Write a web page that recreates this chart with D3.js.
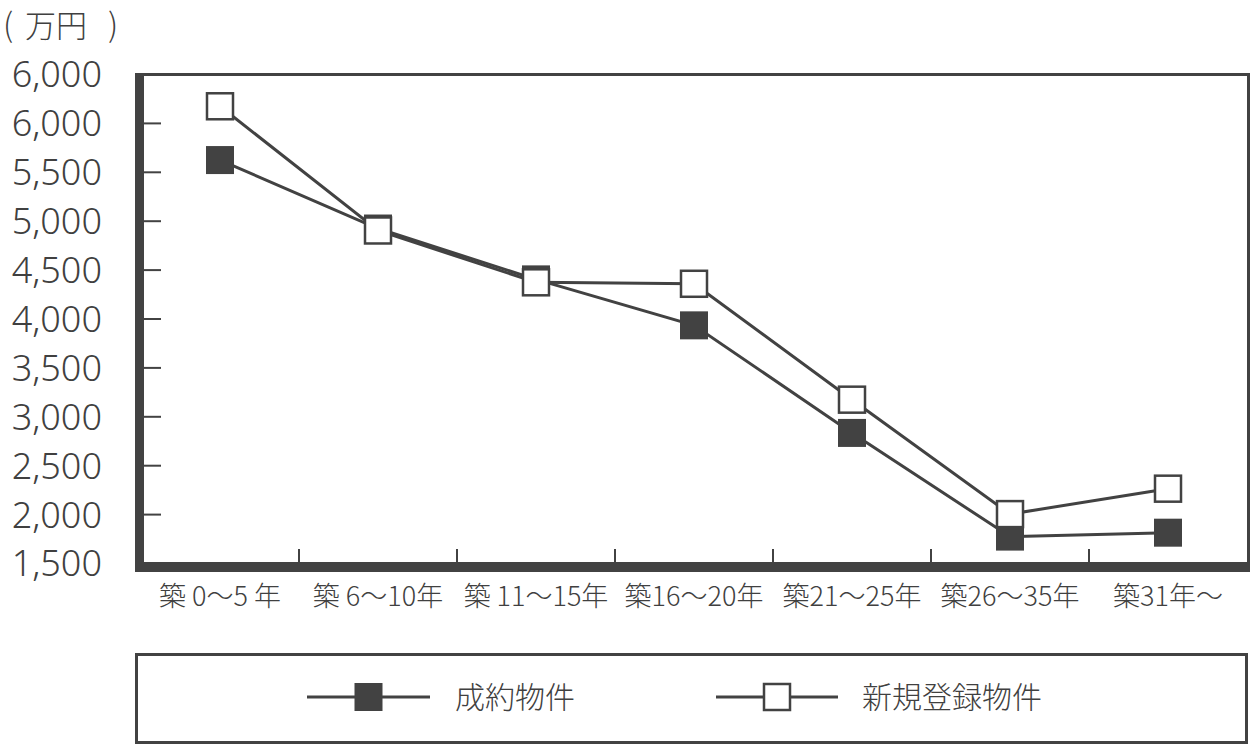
<!DOCTYPE html>
<html><head><meta charset="utf-8">
<script src="https://cdn.jsdelivr.net/npm/d3@7"></script>
<style>
html,body{margin:0;padding:0;background:#fff;}
svg{display:block;}
text{font-family:"Noto Sans CJK JP","Noto Sans",sans-serif;fill:#404040;font-weight:300;}
</style></head>
<body>
<svg id="chart" width="1251" height="745"></svg>
<script>
const categories = ["築 0～5 年","築 6～10年","築 11～15年","築16～20年","築21～25年","築26～35年","築31年～"];
const seiyaku = [5620, 4920, 4400, 3930, 2830, 1770, 1810];
const shinki  = [6170, 4900, 4370, 4355, 3170, 2000, 2260];
const yTickValues = [1500,2000,2500,3000,3500,4000,4500,5000,5500,6000,6500];
const yTickLabels = ["1,500","2,000","2,500","3,000","3,500","4,000","4,500","5,000","5,500","6,000","6,000"];
const seriesNames = ["成約物件","新規登録物件"];
const unitParts = ["(", "万円", ")"];

const dark = "#424242";
const svg = d3.select("#chart");

const x = d3.scaleBand().domain(categories).range([141, 1247]).padding(0);
const y = d3.scaleLinear().domain([1500, 6500]).range([563, 74]);

// unit label
const ut = svg.append("text").attr("y", 37).attr("font-size", 31);
ut.append("tspan").attr("x", 3).attr("font-size", 32.5).text(unitParts[0]);
ut.append("tspan").attr("x", 25).text(unitParts[1]);
ut.append("tspan").attr("x", 108).attr("font-size", 32.5).text(unitParts[2]);

// left axis (ticks inward)
const yAxis = d3.axisLeft(y).tickValues(yTickValues)
  .tickSize(-17).tickPadding(42)
  .tickFormat((d,i) => yTickLabels[i]);
const gy = svg.append("g").attr("transform", "translate(144,0)").call(yAxis);
gy.select(".domain").remove();
gy.selectAll(".tick line").attr("stroke", dark).attr("stroke-width", 2)
  .filter(d => d === 1500 || d === 6500).remove();
gy.selectAll(".tick text").attr("font-size", 36).attr("fill", "#404040")
  .attr("dy", "0.36em")
  .style("font-family", '"Noto Sans","Noto Sans CJK JP",sans-serif')
  .style("font-weight", 300);

// bottom axis labels
const xAxis = d3.axisBottom(x).tickSize(0).tickPadding(0);
const gx = svg.append("g").attr("transform", "translate(0,572)").call(xAxis);
gx.select(".domain").remove();
gx.selectAll(".tick text").attr("font-size", 27).attr("dy", "1.25em").attr("fill", "#404040")
  .style("font-weight", 300);

// bottom ticks at band boundaries
svg.append("g").selectAll("line").data(categories.slice(1)).join("line")
  .attr("x1", d => x(d)).attr("x2", d => x(d))
  .attr("y1", 562).attr("y2", 549)
  .attr("stroke", dark).attr("stroke-width", 2);

// frame
svg.append("line").attr("x1", 135).attr("x2", 1250).attr("y1", 74.5).attr("y2", 74.5)
  .attr("stroke", dark).attr("stroke-width", 3);
svg.append("line").attr("x1", 1248.5).attr("x2", 1248.5).attr("y1", 73).attr("y2", 572)
  .attr("stroke", dark).attr("stroke-width", 3);
svg.append("rect").attr("x", 135).attr("y", 73).attr("width", 9).attr("height", 499).attr("fill", dark);
svg.append("rect").attr("x", 135).attr("y", 562).attr("width", 1115).attr("height", 10).attr("fill", dark);

const cx = d => x(d) + x.bandwidth() / 2;
const line = d3.line().x(d => cx(d.c)).y(d => y(d.v));

const dataA = categories.map((c,i) => ({c, v: seiyaku[i]}));
const dataB = categories.map((c,i) => ({c, v: shinki[i]}));

svg.append("path").datum(dataA).attr("d", line).attr("fill", "none")
  .attr("stroke", dark).attr("stroke-width", 3);
svg.append("path").datum(dataB).attr("d", line).attr("fill", "none")
  .attr("stroke", dark).attr("stroke-width", 3);

const S = 28;
svg.append("g").selectAll("rect").data(dataA).join("rect")
  .attr("x", d => cx(d.c) - S/2).attr("y", d => y(d.v) - S/2)
  .attr("width", S).attr("height", S).attr("fill", dark);
const So = 26;
svg.append("g").selectAll("rect").data(dataB).join("rect")
  .attr("x", d => cx(d.c) - So/2).attr("y", d => y(d.v) - So/2)
  .attr("width", So).attr("height", So).attr("fill", "#fff")
  .attr("stroke", dark).attr("stroke-width", 2.5);

// legend
svg.append("rect").attr("x", 136.5).attr("y", 654.5).attr("width", 1110).attr("height", 88)
  .attr("fill", "none").attr("stroke", dark).attr("stroke-width", 3);
const legY = 697;
const legItems = [
  {name: seriesNames[0], x0: 307, x1: 430, filled: true, tx: 455},
  {name: seriesNames[1], x0: 716, x1: 838, filled: false, tx: 862}
];
legItems.forEach(it => {
  svg.append("line").attr("x1", it.x0).attr("x2", it.x1).attr("y1", legY).attr("y2", legY)
    .attr("stroke", dark).attr("stroke-width", 3);
  const m = (it.x0 + it.x1) / 2;
  if (it.filled) {
    svg.append("rect").attr("x", m - 14).attr("y", legY - 14).attr("width", 28).attr("height", 28).attr("fill", dark);
  } else {
    svg.append("rect").attr("x", m - 13).attr("y", legY - 13).attr("width", 26).attr("height", 26)
      .attr("fill", "#fff").attr("stroke", dark).attr("stroke-width", 2.5);
  }
  svg.append("text").attr("x", it.tx).attr("y", legY).attr("dy", "0.36em")
    .attr("font-size", 30).text(it.name);
});
</script>
</body></html>
